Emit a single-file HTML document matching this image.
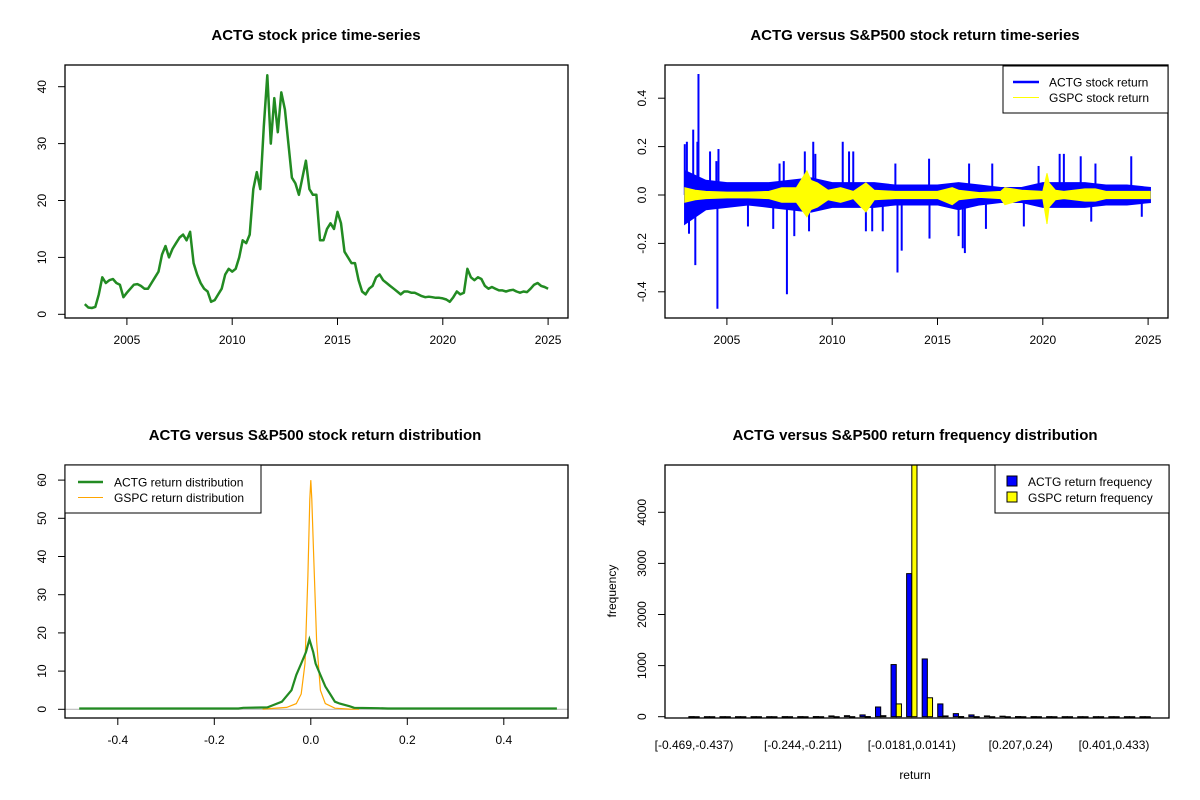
<!DOCTYPE html>
<html><head><meta charset="utf-8">
<style>
html,body{margin:0;padding:0;background:#fff;}
svg{display:block;font-family:"Liberation Sans",Arial,sans-serif;}
</style></head>
<body>
<svg id="chart" width="1200" height="800" viewBox="0 0 1200 800" xmlns="http://www.w3.org/2000/svg"></svg>
<script>
// ---------- DATA ----------
const priceStart = 2003.0;
const priceStep = 1/6;
const priceValues = [
1.8,1.2,1.1,1.3,3.5,6.5,
5.5,6.0,6.2,5.5,5.2,3.0,
3.8,4.5,5.2,5.3,5.0,4.5,
4.5,5.5,6.5,7.5,10.5,12.0,
10,11.5,12.5,13.5,14.0,13.0,
14.5,9.0,7.0,5.5,4.5,4.0,
2.2,2.5,3.5,4.5,7.0,8.0,
7.5,8.0,10.0,13.0,12.5,14.0,
22,25,22,33,42,30,
38,32,39,36,30,24,
23,21,24,27,22,21,
21,13,13,15,16,15,
18,16,11,10,9,9,
6,4,3.5,4.5,5,6.5,
7,6,5.5,5,4.5,4,
3.5,4,4,3.8,3.8,3.5,
3.2,3,3.1,3.0,2.9,2.9,
2.8,2.6,2.2,3.0,4.0,3.5,
3.8,8.0,6.5,6.0,6.5,6.2,
5,4.5,4.8,4.5,4.2,4.2,
4.0,4.2,4.3,4.0,3.8,4.0,
3.9,4.5,5.2,5.5,5.0,4.8,
4.5];
const yearTicks = [2005,2010,2015,2020,2025];
const priceTicks = [0,10,20,30,40];

const bandYears = [2003,2004,2005,2006,2007,2008,2009,2010,2011,2012,2013,2014,2015,2016,2017,2018,2019,2020,2021,2022,2023,2024,2025.1];
const actgUpper = [0.10,0.06,0.05,0.05,0.05,0.06,0.07,0.05,0.05,0.05,0.04,0.04,0.04,0.05,0.04,0.03,0.03,0.05,0.05,0.05,0.04,0.04,0.03];
const actgLower = [-0.12,-0.06,-0.05,-0.04,-0.05,-0.06,-0.07,-0.05,-0.05,-0.05,-0.04,-0.04,-0.04,-0.06,-0.04,-0.03,-0.03,-0.05,-0.05,-0.05,-0.04,-0.04,-0.03];
const spikeYears = [2003.0,2003.1,2003.4,2003.6,2003.65,2003.5,2003.2,2004.2,2004.6,2004.55,2004.5,2006.0,2007.5,2007.2,2007.7,2007.85,2008.2,2008.7,2009.1,2008.9,2009.2,2010.5,2010.8,2011.0,2011.6,2011.9,2012.4,2013.1,2013.3,2013.0,2014.6,2014.62,2016.0,2016.2,2016.3,2016.5,2017.3,2017.6,2019.1,2019.8,2020.8,2021.0,2021.8,2022.3,2022.5,2024.2,2024.7];
const spikeValues = [0.21,0.22,0.27,0.22,0.50,-0.29,-0.16,0.18,0.19,-0.47,0.14,-0.13,0.13,-0.14,0.14,-0.41,-0.17,0.18,0.22,-0.15,0.17,0.22,0.18,0.18,-0.15,-0.15,-0.15,-0.32,-0.23,0.13,0.15,-0.18,-0.17,-0.22,-0.24,0.13,-0.14,0.13,-0.13,0.12,0.17,0.17,0.16,-0.11,0.13,0.16,-0.09];
const gspcYears = [2003,2003.5,2004,2005,2006,2007,2007.6,2008.3,2008.8,2009.0,2009.3,2009.8,2010.4,2011.0,2011.6,2012.0,2013,2014,2015,2015.7,2016,2017,2018,2018.2,2019,2020.0,2020.2,2020.3,2020.6,2021,2022,2022.5,2023,2024,2025.1];
const gspcUpper = [0.03,0.02,0.015,0.012,0.012,0.015,0.03,0.03,0.10,0.06,0.05,0.02,0.03,0.015,0.05,0.02,0.015,0.015,0.015,0.03,0.02,0.01,0.015,0.03,0.02,0.015,0.09,0.05,0.02,0.015,0.025,0.025,0.015,0.015,0.015];
const gspcLower = [-0.03,-0.02,-0.015,-0.012,-0.012,-0.015,-0.03,-0.03,-0.09,-0.06,-0.05,-0.02,-0.03,-0.015,-0.07,-0.02,-0.015,-0.015,-0.015,-0.04,-0.02,-0.01,-0.015,-0.04,-0.02,-0.015,-0.12,-0.05,-0.02,-0.015,-0.025,-0.025,-0.015,-0.015,-0.015];
const returnTicks = [-0.4,-0.2,0.0,0.2,0.4];
const returnTickLabels = ["-0.4","-0.2","0.0","0.2","0.4"];

const densX_actg = [-0.48,-0.15,-0.14,-0.09,-0.08,-0.06,-0.04,-0.03,-0.02,-0.01,-0.003,0.005,0.01,0.02,0.03,0.04,0.05,0.06,0.08,0.09,0.14,0.16,0.51];
const densY_actg = [0.2,0.2,0.4,0.5,1,2,5,9,12,15,18.3,15,12,9,6,4,2,1.5,0.8,0.4,0.3,0.2,0.2];
const densX_gspc = [-0.1,-0.05,-0.03,-0.02,-0.012,-0.006,-0.002,0,0.002,0.006,0.012,0.02,0.03,0.05,0.08,0.1];
const densY_gspc = [0.05,0.5,1.5,4,12,35,55,60,55,40,18,5,1.5,0.3,0.05,0.02];
const densXTicks = [-0.4,-0.2,0.0,0.2,0.4];
const densXTickLabels = ["-0.4","-0.2","0.0","0.2","0.4"];
const densYTicks = [0,10,20,30,40,50,60];

const binLabels = ["[-0.469,-0.437)","[-0.244,-0.211)","[-0.0181,0.0141)","[0.207,0.24)","[0.401,0.433)"];
const binLabelIndex = [1,8,15,22,28];
const actgFreq = [2,1,1,1,1,1,2,2,3,15,20,35,190,1020,2800,1130,250,60,35,15,10,3,2,2,1,1,1,1,1,1];
const gspcFreq = [0,0,0,0,0,0,0,0,0,0,1,3,20,250,5100,370,15,3,1,0,0,0,0,0,0,0,0,0,0,0];
const freqTicks = [0,1000,2000,3000,4000];

// ---------- HELPERS ----------
const NS = "http://www.w3.org/2000/svg";
const svg = document.getElementById("chart");
function mk(tag, attrs, parent){
  const e = document.createElementNS(NS, tag);
  for (const k in attrs) e.setAttribute(k, attrs[k]);
  (parent||svg).appendChild(e);
  return e;
}
function txt(str, x, y, size, opts, parent){
  const e = mk("text", Object.assign({x:x, y:y, "font-size":size, "text-anchor":"middle", fill:"#000"}, opts||{}), parent);
  e.textContent = str;
  return e;
}
function group(name){
  const g = mk("g", {});
  
  
  return g;
}
function frame(g, x0, y0, x1, y1){
  const r = mk("rect", {x:x0, y:y0, width:x1-x0, height:y1-y0, fill:"none", stroke:"#000", "stroke-width":1.3}, g);
  
  
}
function xAxis(g, ticks, labels, sx, y1, x0, x1){
  const ln = mk("line", {x1:sx(ticks[0]), x2:sx(ticks[ticks.length-1]), y1:y1, y2:y1, stroke:"#000"}, g);
  
  
  ticks.forEach((t,i)=>{
    const tk = mk("line", {x1:sx(t), x2:sx(t), y1:y1, y2:y1+7, stroke:"#000"}, g);
    
    
    const lb = txt(labels[i], sx(t), y1+26, 12, {}, g);
    
    
  });
}
function yAxis(g, ticks, labels, sy, x0){
  const ln = mk("line", {x1:x0, x2:x0, y1:sy(ticks[0]), y2:sy(ticks[ticks.length-1]), stroke:"#000"}, g);
  
  
  ticks.forEach((t,i)=>{
    const tk = mk("line", {x1:x0-7, x2:x0, y1:sy(t), y2:sy(t), stroke:"#000"}, g);
    
    
    const lb = txt(labels[i], x0-19, sy(t), 12, {transform:"rotate(-90 "+(x0-19)+" "+sy(t)+")"}, g);
    
    
  });
}
function title(g, s, x, y){
  const t = txt(s, x, y, 15, {"font-weight":"bold"}, g);
  
  
}

// ---------- PANEL 1: price ----------
(function(){
  const g = group("price-panel");
  const sx = y => 126.9 + (y-2005)*21.06;
  const sy = v => 314.3 - v*5.69;
  title(g, "ACTG stock price time-series", 316, 40);
  const pts = priceValues.map((v,i)=> sx(priceStart+i*priceStep).toFixed(1)+","+sy(v).toFixed(1)).join(" ");
  const pl = mk("polyline", {points:pts, fill:"none", stroke:"#228B22", "stroke-width":2.5, "stroke-linejoin":"round"}, g);
  
  
  frame(g, 65, 65, 568, 318);
  xAxis(g, yearTicks, yearTicks.map(String), sx, 318);
  yAxis(g, priceTicks, priceTicks.map(String), sy, 65);
})();

// ---------- PANEL 2: returns ----------
(function(){
  const g = group("returns-panel");
  const sx = y => 726.9 + (y-2005)*21.06;
  const sy = v => 195 - v*242;
  title(g, "ACTG versus S&P500 stock return time-series", 915, 40);
  const up = bandYears.map((y,i)=> sx(y).toFixed(1)+","+sy(actgUpper[i]).toFixed(1));
  const lo = bandYears.map((y,i)=> sx(y).toFixed(1)+","+sy(actgLower[i]).toFixed(1)).reverse();
  const band = mk("polygon", {points:up.concat(lo).join(" "), fill:"#0000FF", stroke:"#0000FF", "stroke-width":1.5}, g);
  
  
  spikeYears.forEach((y,i)=>{
    const s = mk("line", {x1:sx(y), x2:sx(y), y1:sy(0), y2:sy(spikeValues[i]), stroke:"#0000FF", "stroke-width":2}, g);
    
    
  });
  const gu = gspcYears.map((y,i)=> sx(y).toFixed(1)+","+sy(gspcUpper[i]).toFixed(1));
  const gl = gspcYears.map((y,i)=> sx(y).toFixed(1)+","+sy(gspcLower[i]).toFixed(1)).reverse();
  const gb = mk("polygon", {points:gu.concat(gl).join(" "), fill:"#FFFF00", stroke:"#FFFF00", "stroke-width":1}, g);
  
  
  frame(g, 665, 65, 1168, 318);
  xAxis(g, yearTicks, yearTicks.map(String), sx, 318);
  yAxis(g, returnTicks, returnTickLabels, sy, 665);
  const lg = mk("g", {}, g);
  
  
  mk("rect", {x:1003, y:66, width:165, height:47, fill:"#fff", stroke:"#000"}, lg);
  const l1 = mk("line", {x1:1013, x2:1039, y1:82, y2:82, stroke:"#0000FF", "stroke-width":2.5}, lg);
  
  
  const t1 = txt("ACTG stock return", 1049, 86.5, 12, {"text-anchor":"start"}, lg);
  
  
  const l2 = mk("line", {x1:1013, x2:1039, y1:97.5, y2:97.5, stroke:"#FFFF00", "stroke-width":1}, lg);
  
  
  const t2 = txt("GSPC stock return", 1049, 102, 12, {"text-anchor":"start"}, lg);
  
  
})();

// ---------- PANEL 3: density ----------
(function(){
  const g = group("density-panel");
  const sx = v => 310.8 + v*482.5;
  const sy = v => 709.3 - v*3.82;
  title(g, "ACTG versus S&P500 stock return distribution", 315, 440);
  const base = mk("line", {x1:65, x2:568, y1:sy(0), y2:sy(0), stroke:"#bbb", "stroke-width":1.2}, g);
  
  
  const p2 = mk("polyline", {points:densX_gspc.map((x,i)=>sx(x).toFixed(1)+","+sy(densY_gspc[i]).toFixed(1)).join(" "), fill:"none", stroke:"#FFA500", "stroke-width":1.2}, g);
  
  
  const p1 = mk("polyline", {points:densX_actg.map((x,i)=>sx(x).toFixed(1)+","+sy(densY_actg[i]).toFixed(1)).join(" "), fill:"none", stroke:"#228B22", "stroke-width":2.2}, g);
  
  
  frame(g, 65, 465, 568, 718);
  xAxis(g, densXTicks, densXTickLabels, sx, 718);
  yAxis(g, densYTicks, densYTicks.map(String), sy, 65);
  const lg = mk("g", {}, g);
  
  
  mk("rect", {x:65, y:465, width:196, height:48, fill:"#fff", stroke:"#000"}, lg);
  const l1 = mk("line", {x1:78, x2:103, y1:482, y2:482, stroke:"#228B22", "stroke-width":2.5}, lg);
  
  
  const t1 = txt("ACTG return distribution", 114, 486.5, 12, {"text-anchor":"start"}, lg);
  
  
  const l2 = mk("line", {x1:78, x2:103, y1:497.5, y2:497.5, stroke:"#FFA500", "stroke-width":1}, lg);
  
  
  const t2 = txt("GSPC return distribution", 114, 502, 12, {"text-anchor":"start"}, lg);
  
  
})();

// ---------- PANEL 4: histogram ----------
(function(){
  const g = group("frequency-panel");
  const x0 = 665, unit = 5.185, uStart = -3.6;
  const su = u => x0 + (u - uStart)*unit;
  const yMax = 4930;
  const sy = v => 716.7 - Math.min(v, yMax)*0.0511;
  title(g, "ACTG versus S&P500 return frequency distribution", 915, 440);
  actgFreq.forEach((v,i)=>{
    const u = 3*i + 1;
    const b = mk("rect", {x:su(u), y:sy(v), width:unit, height:Math.max(716.7-sy(v),0.5), fill:"#0000FF", stroke:"#000", "stroke-width":1}, g);
    
    
    const w = gspcFreq[i];
    const b2 = mk("rect", {x:su(u+1), y:sy(w), width:unit, height:Math.max(716.7-sy(w),0.5), fill:"#FFFF00", stroke:"#000", "stroke-width":1}, g);
    
    
  });
  // clip cover above plot
  const cover = mk("rect", {x:660, y:450, width:515, height:15, fill:"#fff"}, g);
  
  
  frame(g, 665, 465, 1169, 718);
  binLabelIndex.forEach((k,i)=>{
    const lb = txt(binLabels[i], su(3*(k-1)+2), 749, 12, {}, g);
    
    
  });
  yAxis(g, freqTicks, freqTicks.map(String), sy, 665);
  const xl = txt("return", 915, 779, 12, {}, g);
  
  
  const yl = txt("frequency", 616, 591, 12, {transform:"rotate(-90 616 591)"}, g);
  
  
  const lg = mk("g", {}, g);
  
  
  mk("rect", {x:995, y:465, width:174, height:48, fill:"#fff", stroke:"#000"}, lg);
  const s1 = mk("rect", {x:1007, y:476, width:10, height:10, fill:"#0000FF", stroke:"#000"}, lg);
  
  
  const t1 = txt("ACTG return frequency", 1028, 486, 12, {"text-anchor":"start"}, lg);
  
  
  const s2 = mk("rect", {x:1007, y:492, width:10, height:10, fill:"#FFFF00", stroke:"#000"}, lg);
  
  
  const t2 = txt("GSPC return frequency", 1028, 502, 12, {"text-anchor":"start"}, lg);
  
  
})();
</script>
</body></html>
